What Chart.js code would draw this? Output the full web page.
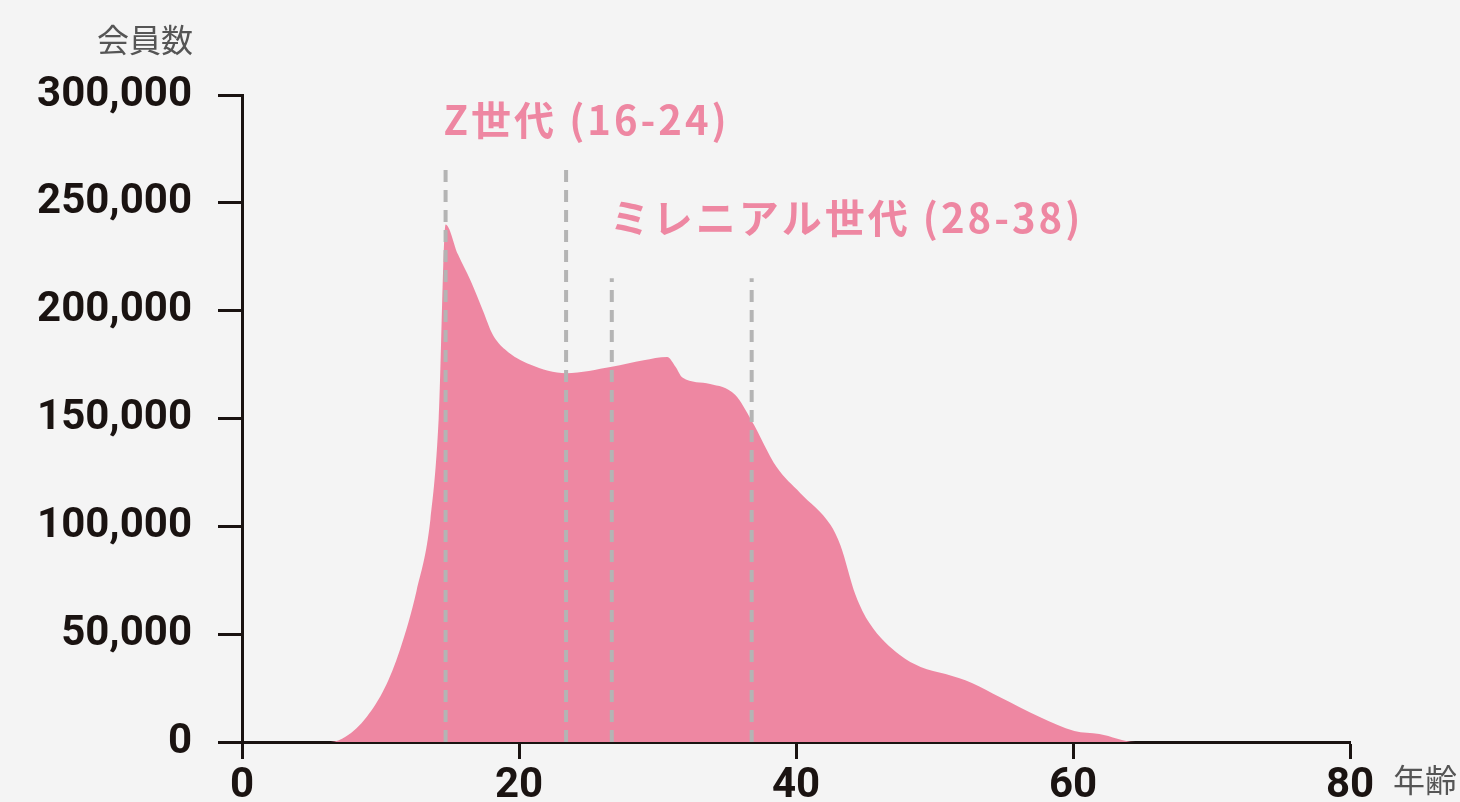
<!DOCTYPE html>
<html>
<head>
<meta charset="utf-8">
<script src="https://cdn.jsdelivr.net/npm/chart.js@4/dist/chart.umd.min.js"></script>
<style>
  html, body { margin: 0; padding: 0; background: #f4f4f4; }
  #wrap { width: 1460px; height: 802px; position: relative; }
</style>
</head>
<body>
<div id="wrap"><canvas id="chart" width="1460" height="802"></canvas></div>
<script>
// age -> member count
const ages = [0, 5, 6.4, 7.5, 9, 10.3, 11.4, 12.6, 13.6, 14.2, 14.7, 15.6, 16.5, 17.4, 18.1, 19, 20.8, 23.4, 26.7, 29, 30.7, 31.3, 31.8, 33.8, 35.6, 36.8, 38.6, 40.3, 42.5, 43.2, 44.3, 45.3, 47.5, 49, 50.8, 52.7, 54.7, 57.6, 60.1, 61.9, 64.5, 80];
const members = [0, 0, 0, 2500, 11600, 25000, 42700, 70000, 103000, 150000, 240000, 226000, 214000, 200000, 189000, 182000, 175000, 171000, 174000, 177000, 178500, 174000, 169000, 166000, 161000, 149000, 127500, 115500, 100600, 91300, 68200, 55200, 40300, 34800, 31500, 27400, 20900, 11600, 5100, 3700, 0, 0];

const xTicks = [0, 20, 40, 60, 80];
const yTicks = [0, 50000, 100000, 150000, 200000, 250000, 300000];

// generation markers: [start, end], dashed line height, label
const genNames = ["Z世代 (16-24)", "ミレニアル世代 (28-38)"];
const genBounds = [[14.7, 23.4], [26.7, 36.8]];
const genLineTop = [268000, 215000];
const genLabelY = [288500, 243000];

const pink = "#ee87a2";
const ink = "#1a1311";

const mainData = ages.map((a, i) => ({ x: a, y: members[i] }));

const dashSets = [];
genBounds.forEach((b, g) => {
  b.forEach(x => {
    dashSets.push({
      data: [{ x: x, y: 0 }, { x: x, y: genLineTop[g] }],
      borderColor: "#b4b4b4",
      borderWidth: 4,
      borderDash: [12, 8],
      pointRadius: 0,
      fill: false,
      tension: 0,
      order: 0,
    });
  });
});

const labelPlugin = {
  id: "labels",
  afterDraw(chart) {
    const ctx = chart.ctx;
    const xs = chart.scales.x;
    const ys = chart.scales.y;
    ctx.save();
    ctx.fillStyle = pink;
    ctx.font = "bold 40px 'Noto Sans CJK JP'";
    ctx.letterSpacing = "3px";
    ctx.textBaseline = "middle";
    ctx.textAlign = "left";
    genNames.forEach((t, g) => {
      ctx.fillText(t, xs.getPixelForValue(genBounds[g][0]) - 2, ys.getPixelForValue(genLabelY[g]));
    });
    ctx.letterSpacing = "0px";
    ctx.fillStyle = "#555555";
    ctx.font = "32px 'Noto Sans CJK JP'";
    ctx.textAlign = "right";
    ctx.fillText("会員数", 193, 40);
    ctx.textAlign = "left";
    ctx.fillText("年齢", 1393, 780);
    ctx.restore();
  },
};

new Chart(document.getElementById("chart"), {
  type: "line",
  data: {
    datasets: [
      {
        data: mainData,
        borderColor: pink,
        backgroundColor: pink,
        borderWidth: 0,
        pointRadius: 0,
        fill: "origin",
        cubicInterpolationMode: "monotone",
        order: 5,
      },
      ...dashSets,
    ],
  },
  options: {
    responsive: false,
    animation: false,
    layout: { padding: { top: 95, right: 110, left: 0, bottom: 0 } },
    plugins: { legend: { display: false }, tooltip: { enabled: false } },
    scales: {
      x: {
        type: "linear",
        min: 0,
        max: 80,
        afterFit(s) { s.height = 60; },
        afterBuildTicks(s) { s.ticks = xTicks.map(v => ({ value: v })); },
        border: { color: ink, width: 3 },
        grid: { drawOnChartArea: false, tickLength: 17, tickColor: ink, tickWidth: 3 },
        ticks: {
          color: ink,
          padding: 2,
          maxRotation: 0,
          font: { family: "Roboto", weight: "bold", size: 42 },
        },
      },
      y: {
        min: 0,
        max: 300000,
        afterFit(s) { s.width = 242; },
        afterBuildTicks(s) { s.ticks = yTicks.map(v => ({ value: v })); },
        border: { color: ink, width: 3 },
        grid: { drawOnChartArea: false, tickLength: 24, tickColor: ink, tickWidth: 3 },
        ticks: {
          color: ink,
          padding: 26,
          font: { family: "Roboto", weight: "bold", size: 42 },
          callback: v => v.toLocaleString("en-US"),
        },
      },
    },
  },
  plugins: [labelPlugin],
});
</script>
</body>
</html>
